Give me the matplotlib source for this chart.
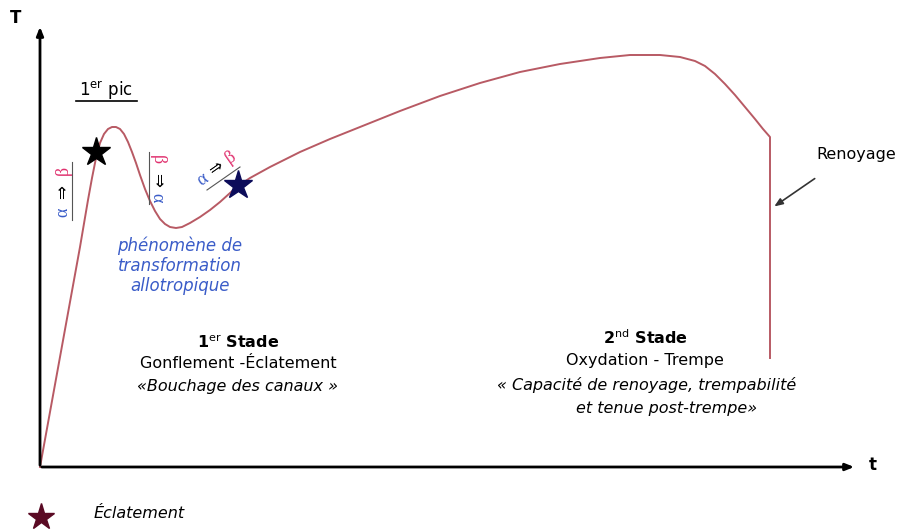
import matplotlib
matplotlib.use("Agg")
import matplotlib.pyplot as plt

# %% Data (t, T), origin at the axes corner
t_curve = [0, 20, 40, 48, 52, 56, 60, 64, 68, 72, 76, 80, 84, 88, 92, 96, 100, 105,
           110, 115, 120, 125, 130, 136, 142, 150, 160, 170, 180, 190, 198, 210, 230,
           260, 290, 320, 360, 400, 440, 480, 520, 560, 590, 620, 640, 655, 665, 675,
           685, 695, 705, 715, 723, 730, 730]
T_curve = [0, 110, 220, 267, 289, 309, 324, 333, 338, 340, 340, 338, 333, 325, 315,
           304, 292, 278, 266, 256, 248, 243, 240, 239, 240, 244, 250, 257, 265, 274,
           281, 289, 300, 315, 328, 340, 356, 371, 384, 395, 403, 409, 412, 412, 410,
           406, 401, 393, 383, 372, 360, 348, 338, 330, 109]

star_black = (56, 315)
star_navy = (198, 282)

curve_color = "#b85a64"
blue = "#3a5cc8"
pink = "#e0306e"


def px(x, y):
    # picture pixel -> data coordinates
    return x - 40, 467 - y


# %% Figure
fig = plt.figure(figsize=(9.03, 5.29), dpi=100)
ax = fig.add_axes([0, 0, 1, 1])
ax.set_xlim(-40, 863)
ax.set_ylim(-62, 467)
ax.axis("off")

# axes with arrows
ax.annotate("", xy=px(40, 24), xytext=px(40, 468),
            arrowprops=dict(arrowstyle="-|>,head_length=0.5,head_width=0.2", color="black", lw=2))
ax.annotate("", xy=px(857, 467), xytext=px(39, 467),
            arrowprops=dict(arrowstyle="-|>,head_length=0.5,head_width=0.2", color="black", lw=2))
ax.text(*px(16, 18), "T", fontsize=12, fontweight="bold", ha="center", va="center")
ax.text(*px(873, 465), "t", fontsize=12, fontweight="bold", ha="center", va="center")

# curve
ax.plot(t_curve, T_curve, color=curve_color, lw=1.4, solid_joinstyle="round")

# stars
ax.plot(*star_black, marker="*", color="black", ms=21)
ax.plot(*star_navy, marker="*", color="#0c0c5a", ms=21)

# 1er pic
ax.text(*px(106, 91), r"1$^{\mathrm{er}}$ pic", fontsize=12, ha="center", va="center")
x0, y0 = px(76, 101)
x1, y1 = px(137, 101)
ax.plot([x0, x1], [y0, y1], color="black", lw=1.2)

# transformations
serif = ["Liberation Serif", "DejaVu Sans"]
ax.text(*px(63, 212), "α", color=blue, fontsize=13, rotation=90, ha="center", va="center", family=serif)
ax.text(*px(63, 192), "⇒", color="black", fontsize=12, rotation=90, ha="center", va="center", family=serif)
ax.text(*px(63, 170), "β", color=pink, fontsize=13, rotation=90, ha="center", va="center", family=serif)
ax.plot([px(72, 0)[0]] * 2, [px(0, 162)[1], px(0, 220)[1]], color="#555555", lw=0.8)

ax.text(*px(157, 160), "β", color=pink, fontsize=13, rotation=-90, ha="center", va="center", family=serif)
ax.text(*px(157, 180), "⇒", color="black", fontsize=12, rotation=-90, ha="center", va="center", family=serif)
ax.text(*px(157, 198), "α", color=blue, fontsize=13, rotation=-90, ha="center", va="center", family=serif)
ax.plot([px(149, 0)[0]] * 2, [px(0, 152)[1], px(0, 204)[1]], color="#555555", lw=0.8)

ax.text(*px(203, 180), "α", color=blue, fontsize=13, rotation=35, ha="center", va="center", family=serif)
ax.text(*px(216, 169), "⇒", color="black", fontsize=12, rotation=35, ha="center", va="center", family=serif)
ax.text(*px(231, 157), "β", color=pink, fontsize=13, rotation=35, ha="center", va="center", family=serif)
ax.plot([px(207, 190)[0], px(240, 167)[0]], [px(207, 190)[1], px(240, 167)[1]], color="#555555", lw=0.8)

ax.text(*px(180, 266), "phénomène de\ntransformation\nallotropique", color=blue,
        fontsize=12, style="italic", ha="center", va="center", linespacing=1.15)

# stades
ax.text(*px(238, 342), r"1$^{\mathrm{er}}$ Stade", fontsize=11.5, fontweight="bold", ha="center", va="center")
ax.text(*px(238, 364), "Gonflement -Éclatement", fontsize=11.5, ha="center", va="center")
ax.text(*px(238, 386), "«Bouchage des canaux »", fontsize=11.5, style="italic", ha="center", va="center")

ax.text(*px(645, 338), r"2$^{\mathrm{nd}}$ Stade", fontsize=11.5, fontweight="bold", ha="center", va="center")
ax.text(*px(645, 361), "Oxydation - Trempe", fontsize=11.5, ha="center", va="center")
ax.text(*px(647, 385), "« Capacité de renoyage, trempabilité", fontsize=11.5, style="italic",
        ha="center", va="center")
ax.text(*px(667, 409), "et tenue post-trempe»", fontsize=11.5, style="italic", ha="center", va="center")

# renoyage
ax.text(*px(856, 154), "Renoyage", fontsize=11.5, ha="center", va="center")
ax.annotate("", xy=px(772, 208), xytext=px(817, 177),
            arrowprops=dict(arrowstyle="-|>,head_length=0.5,head_width=0.2", color="#333333", lw=1.2))

# legend
ax.plot(*px(41, 517), marker="*", color="#5a0a24", ms=20)
ax.text(*px(94, 514), "Éclatement", fontsize=11.5, style="italic", ha="left", va="center")

fig.savefig("out.png", dpi=100)
